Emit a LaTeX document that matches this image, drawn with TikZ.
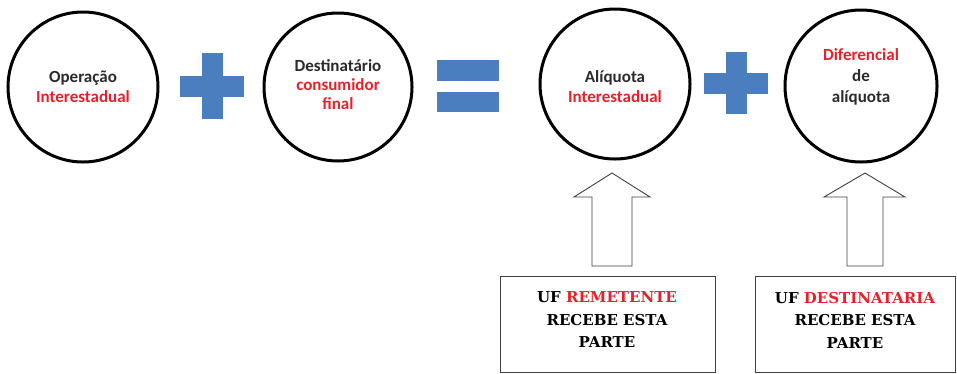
\documentclass[tikz,border=0pt]{standalone}
\usetikzlibrary{calc,shapes.geometric}
\usepackage{fontspec}
\newfontfamily\calib{Carlito}
\newfontfamily\timesb{DejaVu Serif}
\definecolor{plusblue}{HTML}{4A7EBF}
\definecolor{txtred}{HTML}{E8202A}
\definecolor{txtdark}{HTML}{2A2A2A}
\begin{document}
\begin{tikzpicture}[x=1pt,y=-1pt,
  ring/.style={draw=black,line width=3pt,circle,inner sep=0pt},
  ctext/.style={font=\calib\bfseries\fontsize{17}{20}\selectfont,align=center,text=txtdark},
  sym/.style={fill=plusblue,draw=none},
  uparrow/.style={draw=black!75,line width=0.9pt,fill=white},
  infobox/.style={draw=black!75,line width=0.9pt,fill=white},
  btext/.style={font=\timesb\bfseries\fontsize{15}{22.5}\selectfont,align=center,text=black}]
\useasboundingbox (0,0) rectangle (957,373);
% circles
\node[ring,minimum size=150pt] (c1) at (83,87) {};
\node[ring,minimum size=148pt] (c2) at (338,87) {};
\node[ring,minimum size=150pt] (c3) at (615,84) {};
\node[ring,minimum size=152pt] (c4) at (861,86) {};
\node[ctext] (t1) at (83,87) {Operação\\\textcolor{txtred}{Interestadual}};
\node[ctext,font=\calib\bfseries\fontsize{17}{19}\selectfont] (t2) at (338,85) {Destinatário\\\textcolor{txtred}{consumidor}\\\textcolor{txtred}{final}};
\node[ctext] (t3) at (615,87) {Alíquota\\\textcolor{txtred}{Interestadual}};
\node[ctext,font=\calib\bfseries\fontsize{17}{21}\selectfont] (t4) at (861,77) {\textcolor{txtred}{Diferencial}\\de\\alíquota};
% plus 1
\coordinate (p1) at (212,86);
\fill[sym] ($(p1)+(-32,-10.5)$) rectangle ($(p1)+(32,10.5)$);
\fill[sym] ($(p1)+(-10.5,-33)$) rectangle ($(p1)+(10.5,33)$);
% equals
\coordinate (eq) at (468,86);
\fill[sym] ($(eq)+(-31,-26)$) rectangle ($(eq)+(31,-5)$);
\fill[sym] ($(eq)+(-31,6)$) rectangle ($(eq)+(31,26)$);
% plus 2
\coordinate (p2) at (736,83);
\fill[sym] ($(p2)+(-32,-10.5)$) rectangle ($(p2)+(32,10.5)$);
\fill[sym] ($(p2)+(-10.5,-31)$) rectangle ($(p2)+(10.5,31)$);
% arrows
\coordinate (a1) at (612,173);
\draw[uparrow] (a1) -- (650,197) -- (632,197) -- (632,266) -- (592,266) -- (592,197) -- (574,197) -- cycle;
\coordinate (a2) at (865,173);
\draw[uparrow] (a2) -- (905,197) -- (883,197) -- (883,266) -- (847,266) -- (847,197) -- (824,197) -- cycle;
% boxes
\draw[infobox] (500,276) rectangle (715,372);
\draw[infobox] (755,276) rectangle (955.5,372);
\node[btext] (b1) at (607,320) {UF \textcolor{txtred}{REMETENTE}\\RECEBE ESTA\\PARTE};
\node[btext] (b2) at (855,320) {UF \textcolor{txtred}{DESTINATARIA}\\RECEBE ESTA\\PARTE};
\end{tikzpicture}
\end{document}
